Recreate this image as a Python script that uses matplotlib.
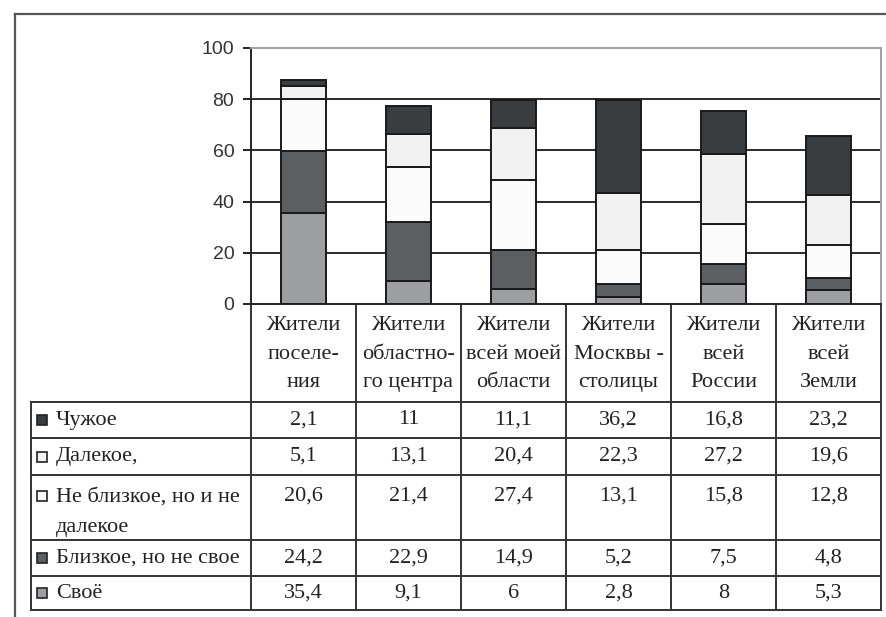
import matplotlib
matplotlib.use("Agg")
import matplotlib.pyplot as plt

# data
categories = ["Жители\nпоселе-\nния", "Жители\nобластно-\nго центра", "Жители\nвсей моей\nобласти",
              "Жители\nМосквы -\nстолицы", "Жители\nвсей\nРоссии", "Жители\nвсей\nЗемли"]
series_names = ["Чужое", "Далекое,", "Не близкое, но и не\nдалекое", "Близкое, но не свое", "Своё"]
chuzhoe = [2.1, 11, 11.1, 36.2, 16.8, 23.2]
dalekoe = [5.1, 13.1, 20.4, 22.3, 27.2, 19.6]
ne_blizkoe = [20.6, 21.4, 27.4, 13.1, 15.8, 12.8]
blizkoe = [24.2, 22.9, 14.9, 5.2, 7.5, 4.8]
svoe = [35.4, 9.1, 6, 2.8, 8, 5.3]
yticks = [0, 20, 40, 60, 80, 100]

series = [chuzhoe, dalekoe, ne_blizkoe, blizkoe, svoe]
colors = ["#3a3d40", "#f1f1f1", "#fbfbfb", "#5b5f62", "#9c9ea1"]

W, H = 887, 617
fig = plt.figure(figsize=(W / 100, H / 100), dpi=100)

serif = "Liberation Serif"
fs = 16

# background axes in pixel coords for frame + table
bg = fig.add_axes([0, 0, 1, 1])
bg.set_xlim(0, W)
bg.set_ylim(H, 0)
bg.axis("off")

# outer frame
bg.plot([15, W], [14, 14], color="#555555", lw=1.6)
bg.plot([15, 15], [14, H], color="#555555", lw=1.6)

# chart axes
x0, x1 = 251, 881
y_top, y_zero = 48, 304
ax = fig.add_axes([x0 / W, 1 - y_zero / H, (x1 - x0) / W, (y_zero - y_top) / H])
ax.set_facecolor("none")
n = len(categories)
ax.set_xlim(-0.5, n - 0.5)
ax.set_ylim(0, 100)

for y in yticks[1:-1]:
    ax.axhline(y, color="#2a2a2a", lw=1.4, zorder=1)

bottom = [0] * n
stack_order = [svoe, blizkoe, ne_blizkoe, dalekoe, chuzhoe]
stack_colors = [colors[4], colors[3], colors[2], colors[1], colors[0]]
for vals, c in zip(stack_order, stack_colors):
    ax.bar(range(n), vals, bottom=bottom, width=0.42, color=c,
           edgecolor="#1a1a1a", linewidth=1.4, zorder=3)
    bottom = [b + v for b, v in zip(bottom, vals)]

ax.spines["top"].set_color("#a0a0a0")
ax.spines["right"].set_color("#a0a0a0")
ax.spines["left"].set_color("#222222")
ax.spines["bottom"].set_color("#222222")
for s in ax.spines.values():
    s.set_linewidth(1.4)
ax.set_xticks([])
ax.set_yticks(yticks)
ax.set_yticklabels([str(t) for t in yticks], fontfamily="Liberation Sans", fontsize=14, color="#333333")
ax.tick_params(axis="y", length=6, width=1.4, color="#222222", pad=6)

# table
col_w = (x1 - x0) / n
row_edges = [304, 402, 438, 475, 540, 576, 610]
tab_left = 31
line_kw = dict(color="#333333", lw=1.4)

# vertical lines
for i in range(n + 1):
    x = x0 + i * col_w
    bg.plot([x, x], [row_edges[0], row_edges[-1]], **line_kw)
bg.plot([tab_left, tab_left], [row_edges[1], row_edges[-1]], **line_kw)
# horizontal lines
for y in row_edges[1:]:
    bg.plot([tab_left, x1], [y, y], **line_kw)

# header
for i, cat in enumerate(categories):
    cx = x0 + (i + 0.5) * col_w
    bg.text(cx, 316, cat, ha="center", va="top", fontsize=fs, family=serif,
            color="#222222", linespacing=1.68)

# rows
for r, (name, vals, c) in enumerate(zip(series_names, series, colors)):
    top = row_edges[r + 1]
    bot = row_edges[r + 2]
    multi = "\n" in name
    ty = top + 21 if multi else (top + bot) / 2
    bg.add_patch(plt.Rectangle((37, ty - 5), 10, 10, facecolor=c, edgecolor="#222222", lw=1.2))
    bg.text(56, top + 13 if multi else ty, name, ha="left", va="top" if multi else "center",
            fontsize=fs, family=serif, color="#222222", linespacing=1.78)
    for i, v in enumerate(vals):
        cx = x0 + (i + 0.5) * col_w
        label = f"{v:g}".replace(".", ",")
        bg.text(cx, ty, label, ha="center", va="center", fontsize=fs, family=serif, color="#222222")

fig.savefig("out.png", dpi=100)
